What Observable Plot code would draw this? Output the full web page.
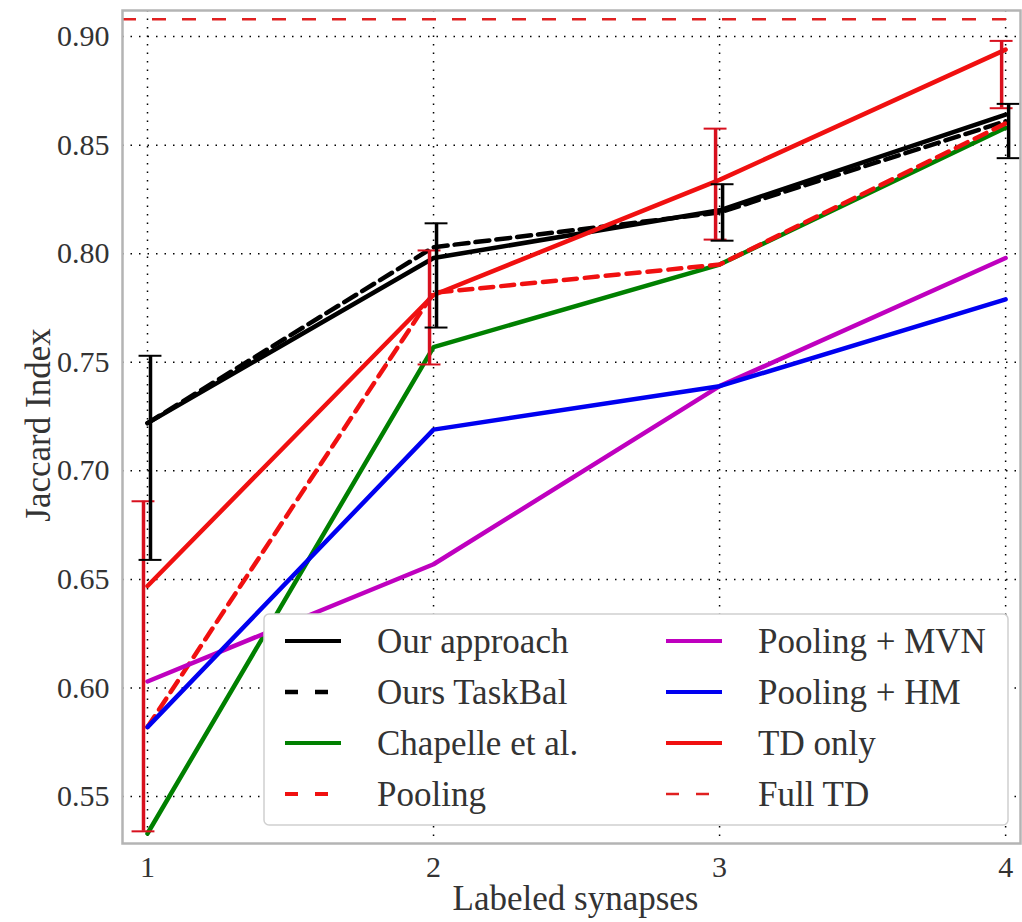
<!DOCTYPE html>
<html>
<head>
<meta charset="utf-8">
<script src="https://cdn.jsdelivr.net/npm/d3@7"></script>
<script src="https://cdn.jsdelivr.net/npm/@observablehq/plot@0.6"></script>
<style>
  html, body { margin: 0; padding: 0; background: #fff; }
  #wrap { position: relative; width: 1022px; height: 922px; }
  #legend { position: absolute; left: 263px; top: 613px; }
</style>
</head>
<body>
<div id="wrap"></div>
<script>
// ---- data ----
const labeledSynapses = [1, 2, 3, 4];
const ourApproach = [0.722, 0.798, 0.820, 0.864];
const oursTaskBal = [0.722, 0.803, 0.819, 0.861];
const chapelle   = [0.533, 0.757, 0.795, 0.858];
const pooling    = [0.582, 0.782, 0.795, 0.860];
const poolingMVN = [0.603, 0.657, 0.739, 0.798];
const poolingHM  = [0.582, 0.719, 0.739, 0.779];
const tdOnly     = [0.647, 0.781, 0.834, 0.894];
const fullTD     = 0.908;
const ourErrLow  = [0.659, 0.766, 0.806, 0.844];
const ourErrHigh = [0.753, 0.814, 0.832, 0.869];
const tdErrLow   = [0.534, 0.749, 0.8065, 0.867];
const tdErrHigh  = [0.686, 0.8015, 0.8576, 0.898];
const yTicks = [0.55, 0.60, 0.65, 0.70, 0.75, 0.80, 0.85, 0.90];
const xTicks = [1, 2, 3, 4];
const seriesNames = ["Our approach", "Ours TaskBal", "Chapelle et al.", "Pooling",
                     "Pooling + MVN", "Pooling + HM", "TD only", "Full TD"];

const FONT = "'Liberation Serif', 'DejaVu Serif', serif";
const RED = "#f01010";

const series = [
  {name: seriesNames[0], values: ourApproach, stroke: "#000", dash: null, w: 4.5},
  {name: seriesNames[1], values: oursTaskBal, stroke: "#000", dash: "14,7", w: 4.5},
  {name: seriesNames[2], values: chapelle, stroke: "#008000", dash: null, w: 4.5},
  {name: seriesNames[3], values: pooling, stroke: RED, dash: "13,8", w: 4.5},
  {name: seriesNames[4], values: poolingMVN, stroke: "#bf00bf", dash: null, w: 4.5},
  {name: seriesNames[5], values: poolingHM, stroke: "#0000f0", dash: null, w: 4.5},
  {name: seriesNames[6], values: tdOnly, stroke: RED, dash: null, w: 4.5},
];
const toRows = vals => labeledSynapses.map((x, i) => ({x, y: vals[i]}));

const ourErr = labeledSynapses.map((x, i) => ({x, lo: ourErrLow[i], hi: ourErrHigh[i]}));
const tdErr  = labeledSynapses.map((x, i) => ({x, lo: tdErrLow[i], hi: tdErrHigh[i]}));
const capHalf = 0.04;

function errMarks(data, stroke, dx) {
  return [
    Plot.ruleX(data, {x: "x", y1: "lo", y2: "hi", stroke, strokeWidth: 3.5, dx}),
    Plot.ruleY(data, {y: "lo", x1: d => d.x - capHalf, x2: d => d.x + capHalf, stroke, strokeWidth: 2, dx}),
    Plot.ruleY(data, {y: "hi", x1: d => d.x - capHalf, x2: d => d.x + capHalf, stroke, strokeWidth: 2, dx}),
  ];
}

const chart = Plot.plot({
  width: 1022,
  height: 922,
  marginLeft: 122,
  marginRight: 2,
  marginTop: 10,
  marginBottom: 79,
  style: {fontFamily: FONT, background: "white", color: "#222"},
  x: {domain: [0.9126, 4.052]},
  y: {domain: [0.5284, 0.912]},
  marks: [
    Plot.gridY(yTicks, {stroke: "#000", strokeOpacity: 1, strokeWidth: 1.5, strokeDasharray: "1.5,7"}),
    Plot.gridX(xTicks, {stroke: "#000", strokeOpacity: 1, strokeWidth: 1.5, strokeDasharray: "1.5,7"}),
    Plot.axisY(yTicks, {tickFormat: d3.format(".2f"), tickSize: 0, tickPadding: 13, fontSize: 30, label: null, fill: "#333"}),
    Plot.axisX(xTicks, {tickFormat: d3.format("d"), tickSize: 0, tickPadding: 12, fontSize: 30, label: null, fill: "#333"}),
    ...series.map(s => Plot.line(toRows(s.values), {x: "x", y: "y", stroke: s.stroke, strokeWidth: s.w, strokeDasharray: s.dash})),
    ...errMarks(tdErr, "#d8101e", -4),
    ...errMarks(ourErr, "#000", 3),
    Plot.ruleY([fullTD], {stroke: "#e02020", strokeWidth: 2.5, strokeDasharray: "14,16"}),
    Plot.frame({stroke: "#b4b4b4", strokeWidth: 2.5}),
    Plot.text(["Jaccard Index"], {frameAnchor: "left", textAnchor: "middle", dx: -84, dy: -2, rotate: -90, fontSize: 35, fill: "#333"}),
    Plot.text(["Labeled synapses"], {frameAnchor: "bottom", dy: 66, dx: 4, fontSize: 35, fill: "#333"}),
  ]
});
document.getElementById("wrap").appendChild(chart);

// ---- legend (overlay) ----
const legendItems = [
  {name: seriesNames[0], stroke: "#000", dash: null, w: 4},
  {name: seriesNames[1], stroke: "#000", dash: "13,17", w: 4.5},
  {name: seriesNames[2], stroke: "#008000", dash: null, w: 4},
  {name: seriesNames[3], stroke: RED, dash: "13,17", w: 4},
  {name: seriesNames[4], stroke: "#bf00bf", dash: null, w: 4},
  {name: seriesNames[5], stroke: "#0000f0", dash: null, w: 4},
  {name: seriesNames[6], stroke: RED, dash: null, w: 4},
  {name: seriesNames[7], stroke: "#e02020", dash: "13,17", w: 2.5},
];
const lw = 746, lh = 213;
const leg = d3.create("svg").attr("id", "legend").attr("width", lw).attr("height", lh)
  .style("font-family", FONT);
leg.append("rect").attr("x", 1).attr("y", 1).attr("width", lw - 2).attr("height", lh - 2)
  .attr("rx", 5).attr("fill", "white").attr("stroke", "#d0d0d0").attr("stroke-width", 1.5);
legendItems.forEach((it, i) => {
  const col = Math.floor(i / 4), row = i % 4;
  const x0 = col === 0 ? 22 : 403;
  const y = 28 + row * 51;
  leg.append("line").attr("x1", x0).attr("x2", x0 + 56).attr("y1", y).attr("y2", y)
    .attr("stroke", it.stroke).attr("stroke-width", it.w)
    .attr("stroke-dasharray", it.dash);
  leg.append("text").attr("x", x0 + 92).attr("y", y).attr("dy", "0.35em")
    .attr("font-size", 35).attr("fill", "#333").text(it.name);
});
document.getElementById("wrap").appendChild(leg.node());
</script>
</body>
</html>
